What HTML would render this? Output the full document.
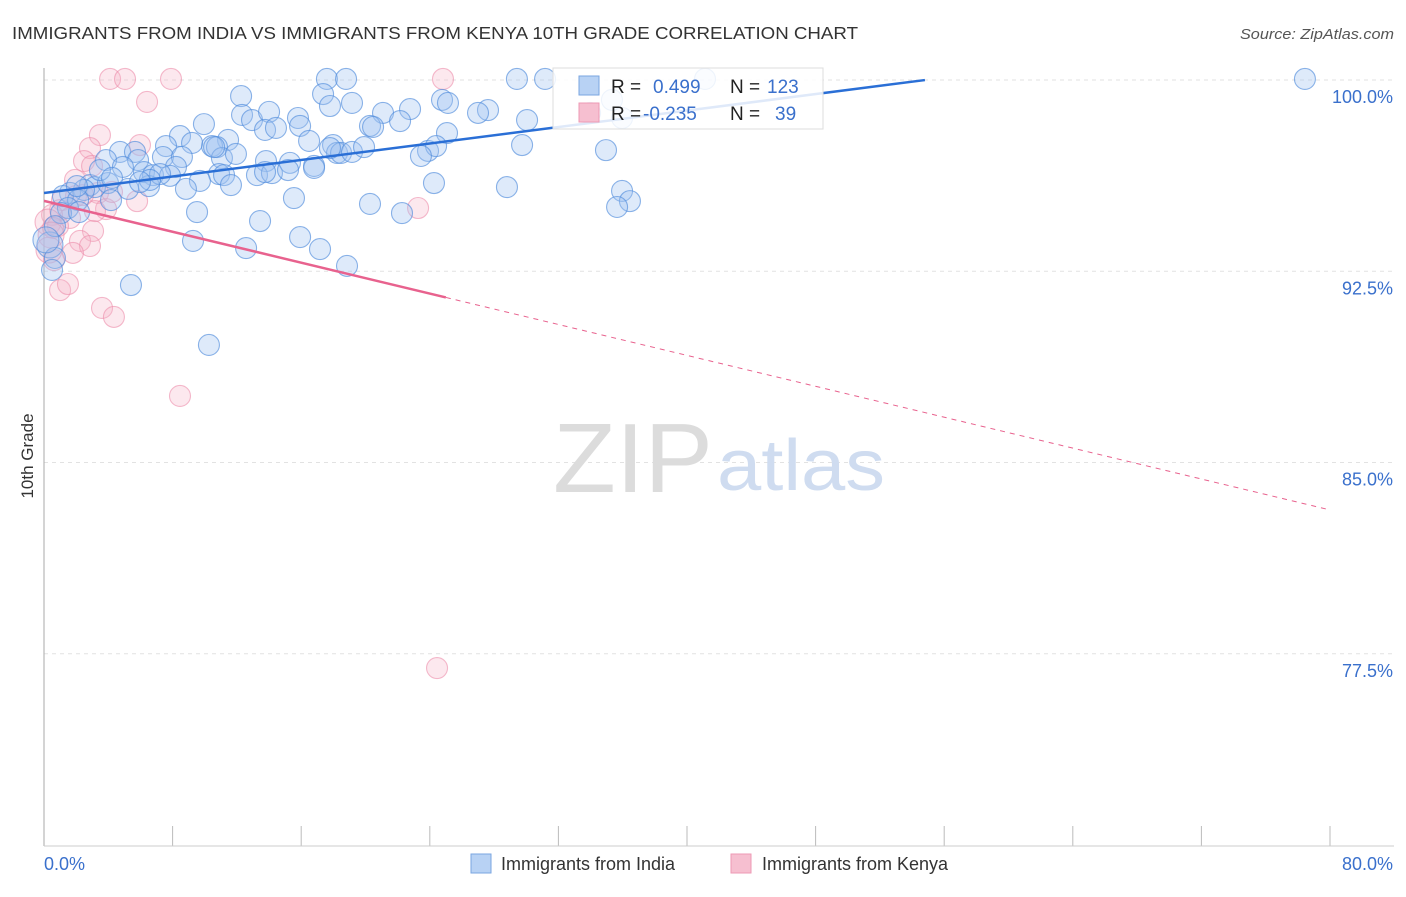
<!DOCTYPE html>
<html><head><meta charset="utf-8"><style>
body{margin:0;background:#fff;font-family:"Liberation Sans",sans-serif;}
svg text{font-family:"Liberation Sans",sans-serif;}
</style></head><body>
<svg id="chart" width="1406" height="892" xmlns="http://www.w3.org/2000/svg">
<text x="12" y="39" font-size="17.5" fill="#333" textLength="846" lengthAdjust="spacingAndGlyphs">IMMIGRANTS FROM INDIA VS IMMIGRANTS FROM KENYA 10TH GRADE CORRELATION CHART</text>
<text x="1240" y="39" font-size="14.5" fill="#555" font-style="italic" textLength="154" lengthAdjust="spacingAndGlyphs">Source: ZipAtlas.com</text>
<g id="grid"></g>
<text x="553" y="492" font-size="98" fill="#dcdcdc" font-family="Liberation Serif" textLength="160" lengthAdjust="spacingAndGlyphs">ZIP</text>
<text x="717" y="490" font-size="72" fill="#cfdcf0" textLength="168" lengthAdjust="spacingAndGlyphs">atlas</text>
<line x1="44" y1="68" x2="44" y2="846" stroke="#aaa"/>
<line x1="44" y1="846" x2="1394" y2="846" stroke="#ccc"/>
<text transform="translate(33,456) rotate(-90)" font-size="17" fill="#333" text-anchor="middle">10th Grade</text>
<g id="pts"></g>
<g id="trends"></g>
<g>
<rect x="553" y="68" width="270" height="61" fill="#fff" fill-opacity="0.85" stroke="#ddd"/>
<rect x="579" y="76" width="20" height="19" fill="#b8d2f4" stroke="#7aa6e0"/>
<rect x="579" y="103" width="20" height="19" fill="#f6bfd0" stroke="#ee9ab4"/>
<text x="611" y="93" font-size="19" fill="#222">R = </text><text x="653" y="93" font-size="19" fill="#3a70cc">0.499</text>
<text x="730" y="93" font-size="19" fill="#222">N = </text><text x="767" y="93" font-size="19" fill="#3a70cc">123</text>
<text x="611" y="120" font-size="19" fill="#222">R = </text><text x="643" y="120" font-size="19" fill="#3a70cc">-0.235</text>
<text x="730" y="120" font-size="19" fill="#222">N = </text><text x="775" y="120" font-size="19" fill="#3a70cc">39</text>
</g>
<g><rect x="471" y="854" width="20" height="19" fill="#b8d2f4" stroke="#7aa6e0"/><text x="501" y="870" font-size="18" fill="#333">Immigrants from India</text></g>
<g><rect x="731" y="854" width="20" height="19" fill="#f6bfd0" stroke="#ee9ab4"/><text x="762" y="870" font-size="18" fill="#333">Immigrants from Kenya</text></g>
<text x="44" y="870" font-size="18" fill="#3a70cc">0.0%</text>
<text x="1393" y="870" font-size="18" fill="#3a70cc" text-anchor="end">80.0%</text>
</svg>
<script>
const yTicks=[100,92.5,85,77.5];
const yTickLabels=["100.0%","92.5%","85.0%","77.5%"];
const xTicks=[0,8,16,24,32,40,48,56,64,72,80];
const bluePx=[[327,79],[346,79],[517,79],[545,79],[705,79],[1305,79],[241,96],[323,94],[352,103],[330,106],[442,100],[448,103],[488,110],[478,113],[383,113],[410,109],[242,115],[252,120],[269,112],[298,118],[204,124],[265,130],[276,128],[300,126],[370,126],[373,127],[400,121],[447,133],[527,120],[180,136],[228,140],[212,146],[217,147],[192,143],[166,146],[309,141],[333,145],[337,153],[341,153],[352,152],[364,147],[428,151],[436,146],[421,156],[522,145],[606,150],[120,152],[135,152],[106,160],[138,160],[163,157],[182,157],[176,167],[222,158],[236,154],[266,161],[290,163],[314,166],[314,168],[123,167],[144,172],[153,175],[219,174],[224,175],[257,175],[272,173],[288,170],[170,176],[200,181],[231,185],[186,189],[149,186],[128,189],[90,185],[95,187],[84,190],[70,193],[63,196],[108,183],[78,200],[111,200],[434,183],[507,187],[622,191],[630,201],[617,207],[370,204],[294,198],[197,212],[260,221],[402,213],[68,208],[61,213],[79,212],[300,237],[193,241],[246,248],[320,249],[347,266],[50,245],[55,258],[52,270],[131,285],[209,345],[622,118],[612,100],[590,113],[55,226],[46,240],[77,186],[100,170],[112,178],[160,174],[150,180],[214,147],[330,148],[265,172],[140,182]];
const pinkPx=[[110,79],[125,79],[171,79],[443,79],[147,102],[100,135],[140,145],[90,148],[84,161],[92,166],[75,180],[62,200],[76,196],[60,210],[98,193],[83,195],[70,218],[52,215],[48,222],[58,226],[93,231],[53,228],[80,241],[90,246],[73,253],[51,235],[54,260],[60,290],[68,284],[102,308],[114,317],[180,396],[437,668],[418,208],[137,201],[106,209],[112,192],[49,250],[95,211]];
// data values (x in %, y in %)
const indiaX=bluePx.map(p=>+((p[0]-44)/16.075).toFixed(2));
const indiaY=bluePx.map(p=>+(100-(p[1]-80)/25.5).toFixed(2));
const kenyaX=pinkPx.map(p=>+((p[0]-44)/16.075).toFixed(2));
const kenyaY=pinkPx.map(p=>+(100-(p[1]-80)/25.5).toFixed(2));
const indiaTrend=[95.57,0.0808,54.8];
const kenyaTrend=[95.26,-0.1515,25];
const sx=v=>44+v*16.075, sy=v=>80+(100-v)*25.5;
const NS="http://www.w3.org/2000/svg";
const g=document.getElementById('grid');
yTicks.forEach((t,i)=>{
 const l=document.createElementNS(NS,'line');
 l.setAttribute('x1',44);l.setAttribute('x2',1394);l.setAttribute('y1',sy(t));l.setAttribute('y2',sy(t));
 l.setAttribute('stroke','#e2e2e2');l.setAttribute('stroke-dasharray','4,4');
 
 
 g.appendChild(l);
 const tx=document.createElementNS(NS,'text');
 tx.setAttribute('x',1393);tx.setAttribute('y',sy(t)+23);tx.setAttribute('text-anchor','end');
 tx.setAttribute('font-size','18');tx.setAttribute('fill','#3a70cc');tx.textContent=yTickLabels[i];
 
 
 g.appendChild(tx);
});
xTicks.forEach(t=>{
 const l=document.createElementNS(NS,'line');
 l.setAttribute('x1',sx(t));l.setAttribute('x2',sx(t));l.setAttribute('y1',826);l.setAttribute('y2',846);
 l.setAttribute('stroke','#bbb');
 
 
 g.appendChild(l);
});
const P=document.getElementById('pts');
function dots(xs,ys,fill,stroke,name){
 xs.forEach((x,i)=>{
  const c=document.createElementNS(NS,'circle');
  c.setAttribute('cx',sx(x));c.setAttribute('cy',sy(ys[i]));
  c.setAttribute('r',x<0.5?13:10.5);
  c.setAttribute('fill',fill);c.setAttribute('stroke',stroke);c.setAttribute('stroke-width','1.1');
  
  
  P.appendChild(c);
 });
}
dots(kenyaX,kenyaY,'rgba(246,180,200,0.3)','rgba(236,140,170,0.6)','kenya-point');
dots(indiaX,indiaY,'rgba(160,196,240,0.35)','rgba(80,140,220,0.65)','india-point');
const T=document.getElementById('trends');
function line(x1,y1,x2,y2,col,w,dash,name){
 const l=document.createElementNS(NS,'line');
 l.setAttribute('x1',sx(x1));l.setAttribute('y1',sy(y1));l.setAttribute('x2',sx(x2));l.setAttribute('y2',sy(y2));
 l.setAttribute('stroke',col);l.setAttribute('stroke-width',w);if(dash)l.setAttribute('stroke-dasharray',dash);
 
 
 T.appendChild(l);
}
line(0,indiaTrend[0],indiaTrend[2],indiaTrend[0]+indiaTrend[1]*indiaTrend[2],'#2a6fd6',2.5,null,'india-trendline');
line(0,kenyaTrend[0],kenyaTrend[2],kenyaTrend[0]+kenyaTrend[1]*kenyaTrend[2],'#e8628e',2.5,null,'kenya-trendline');
line(kenyaTrend[2],kenyaTrend[0]+kenyaTrend[1]*kenyaTrend[2],80,kenyaTrend[0]+kenyaTrend[1]*80,'#e8628e',1,'5,5','kenya-trendline-extension');
</script>
</body></html>
